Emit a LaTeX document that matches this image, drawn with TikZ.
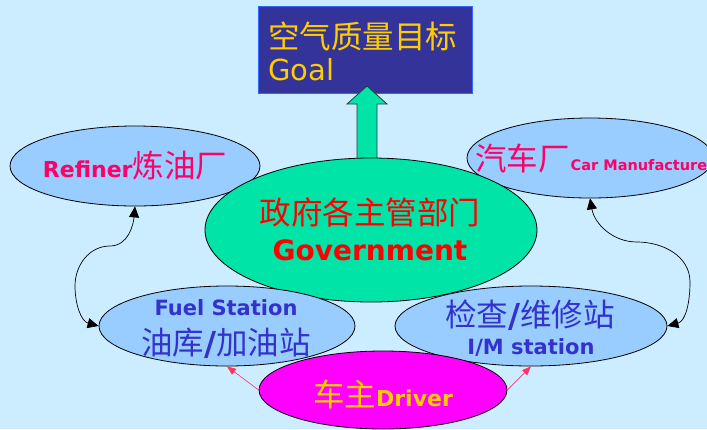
\documentclass[tikz,border=0pt]{standalone}
\usepackage{fontspec}
\setmainfont{DejaVu Sans}
\newfontfamily\cjk{Noto Sans CJK SC}
\usetikzlibrary{shapes.geometric,arrows.meta}
\definecolor{bgblue}{RGB}{204,236,255}
\definecolor{goalfill}{RGB}{51,51,153}
\definecolor{goalborder}{RGB}{51,102,255}
\definecolor{gold}{RGB}{255,204,0}
\definecolor{govgreen}{RGB}{0,228,168}
\definecolor{lightblue}{RGB}{153,204,255}
\definecolor{pinktext}{RGB}{255,0,102}
\definecolor{bluetext}{RGB}{51,51,204}
\definecolor{pinkarrow}{RGB}{255,51,102}
\definecolor{arrowedge}{RGB}{40,60,60}
\definecolor{drvfill}{RGB}{255,0,255}
\newcommand{\fs}[1]{\fontsize{#1}{#1}\selectfont}
\newcommand{\bslash}{{\rmfamily\bfseries\fs{33}\raisebox{-1pt}{/}}}
\tikzset{
  oval/.style={ellipse, draw=black, line width=0.8pt, inner sep=0pt},
  lbl/.style={inner sep=0pt, align=center},
  blackarr/.style={line width=0.7pt, black, {Triangle[length=11pt,width=10pt]}-{Triangle[length=11pt,width=10pt]}},
  pinkarr/.style={line width=0.6pt, pinkarrow, -{Triangle[length=9pt,width=7pt]}},
}
\begin{document}
\begin{tikzpicture}[x=1pt,y=-1pt]
\fill[bgblue] (0,0) rectangle (707,429);
\useasboundingbox (0,0) rectangle (707,429);

% goal box
\node[draw=goalborder, fill=goalfill, line width=1pt, minimum width=214pt, minimum height=87pt, inner sep=0pt] (goal) at (365,49.5) {};
\node[lbl, anchor=west, text=gold] (goalcn) at (268,36) {\cjk\fs{31.5}空气质量目标};
\node[lbl, anchor=west, text=gold] (goalen) at (268,70) {\fs{29}Goal};

% block arrow up
\coordinate (arrtip) at (367,86);
\draw[fill=govgreen, draw=arrowedge, line width=0.8pt]
  (357,162) -- (357,104) -- (347,104) -- (arrtip) -- (387,104) -- (377,104) -- (377,162) -- cycle;

% ellipses
\node[oval, fill=lightblue, minimum width=250pt, minimum height=80pt] (refiner) at (135,166) {};
\node[oval, fill=lightblue, minimum width=246pt, minimum height=80pt] (car) at (590,158) {};
\node[oval, fill=govgreen, minimum width=332pt, minimum height=144pt] (gov) at (371,230) {};
\node[oval, fill=lightblue, minimum width=256pt, minimum height=80pt] (fuel) at (227,326) {};
\node[oval, fill=lightblue, minimum width=272pt, minimum height=80pt] (im) at (531,326) {};
\node[oval, fill=drvfill, minimum width=248pt, minimum height=78pt] (driver) at (383,390) {};

% labels
\node[lbl, text=pinktext] (reftxt) at (135,166) {\fs{22}\bfseries Refiner\cjk\mdseries\fs{31.5}炼油厂};
\node[lbl, anchor=west, text=pinktext] (cartxt) at (475,158) {\cjk\fs{31.5}汽车厂\hspace{1pt}\rmfamily\bfseries\fs{14.5}Car Manufacture};
\node[lbl, text=red] (govcn) at (370,212) {\cjk\fs{31.5}政府各主管部门};
\node[lbl, text=red] (goven) at (370,250) {\bfseries\fs{28}Government};
\node[lbl, text=bluetext] (fueltxt) at (226,308) {\bfseries\fs{21}Fuel Station};
\node[lbl, text=bluetext] (fuelcn) at (226,343) {\cjk\fs{31.5}油库\bslash 加油站};
\node[lbl, text=bluetext] (imcn) at (530,315) {\cjk\fs{31.5}检查\bslash 维修站};
\node[lbl, text=bluetext] (imen) at (531,347) {\bfseries\fs{21}I/M station};
\node[lbl, text=gold] (drvtxt) at (383,394) {\cjk\fs{31.5}车主\rmfamily\bfseries\fs{22}Driver};

% black curved connectors
\coordinate (lmid) at (110,246);
\coordinate (llow) at (75,286);
\draw[blackarr] (refiner.south) to[out=-95,in=0] (lmid) to[out=180,in=90] (llow) to[out=-90,in=165] (fuel.west);
\coordinate (rmid) at (637,242);
\coordinate (rlow) at (690,282);
\draw[blackarr] (car.south) to[out=-80,in=180] (rmid) to[out=0,in=90] (rlow) to[out=-90,in=15] (im.east);

% pink connectors
\draw[pinkarr] (driver.west) -- (fuel.south);
\draw[pinkarr] (driver.east) -- (im.south);
\end{tikzpicture}
\end{document}
